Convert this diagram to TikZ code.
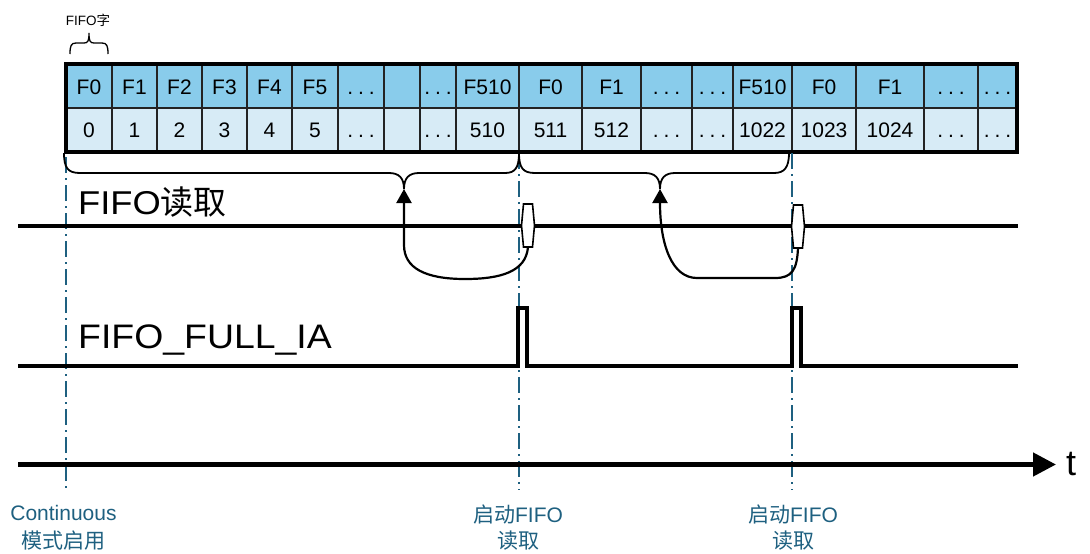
\documentclass[tikz,border=0pt]{standalone}
\usepackage{fontspec}
\setmainfont{Liberation Sans}
\newfontfamily\cjk{Noto Sans CJK SC}
\newfontfamily\widesans[FakeStretch=1.1]{Liberation Sans}
\usetikzlibrary{arrows.meta}
\definecolor{cellTop}{RGB}{137,204,235}
\definecolor{cellBot}{RGB}{215,235,246}
\definecolor{marker}{RGB}{30,96,128}
\definecolor{rule}{RGB}{35,35,35}
% widely spaced ellipsis used in the table cells
\newcommand{\gapdots}{.\kern5pt.\kern5pt.}

\begin{document}
\begin{tikzpicture}[x=1pt,y=-1pt,
  cellText/.style={anchor=base,inner sep=0pt,font=\fontsize{21}{21}\selectfont},
  cellRule/.style={draw=rule,line width=1.8pt},
  frame/.style={draw=black,line width=4.6pt},
  markerLine/.style={draw=marker,line width=2pt,dash pattern=on 16pt off 5pt on 2pt off 5pt},
  sigLine/.style={draw=black,line width=3.4pt},
  sigLabel/.style={anchor=base west,inner sep=0pt,font=\fontsize{33}{33}\selectfont\widesans},
  brace/.style={draw=black,line width=1.8pt},
  loopArrow/.style={draw=black,line width=2.2pt,-{Triangle[length=14pt,width=15pt]}},
  valve/.style={draw=black,line width=1.6pt,fill=white},
  markText/.style={anchor=base,inner sep=0pt,text=marker,font=\fontsize{21}{21}\selectfont},
  axisLine/.style={draw=black,line width=4.6pt,-{Triangle[length=23pt,width=23pt]}}
]
\useasboundingbox (0,0) rectangle (1090,554);

% ---- FIFO word table ----
\foreach \xa/\xb/\up/\dn [count=\i] in {
  66/112/F0/0, 112/157/F1/1, 157/202/F2/2, 202/247/F3/3, 247/292/F4/4,
  292/338/F5/5, 338/384/\gapdots/\gapdots, 384/420/{}/{}, 420/456/\gapdots/\gapdots, 456/519/F510/510,
  519/582/F0/511, 582/641/F1/512, 641/692/\gapdots/\gapdots, 692/733/\gapdots/\gapdots,
  733/792/F510/1022, 792/856/F0/1023, 856/924/F1/1024, 924/978/\gapdots/\gapdots,
  978/1017/\gapdots/\gapdots}
{
  \fill[cellTop] (\xa,64) rectangle (\xb,108);
  \fill[cellBot] (\xa,108) rectangle (\xb,152);
  \node[cellText] (w\i) at ({(\xa+\xb)/2},94) {\up};
  \node[cellText] (a\i) at ({(\xa+\xb)/2},137.5) {\dn};
}
\foreach \x in {112,157,202,247,292,338,384,420,456,519,582,641,692,733,792,856,924,978}
  \draw[cellRule] (\x,64) -- (\x,152);
\draw[cellRule] (66,108) -- (1017,108);
\draw[frame] (66,64) rectangle (1017,152);

% ---- one FIFO word ----
\node[anchor=base,inner sep=0pt,font=\fontsize{13.5}{13.5}\selectfont] (wordLbl) at (88,25) {FIFO{\cjk 字}};
\draw[draw=black,line width=1.3pt]
  (70,54) .. controls (70,46) and (71,43) .. (76,43) -- (84,43)
  .. controls (88,43) and (89,41) .. (89,33)
  .. controls (89,41) and (90,43) .. (94,43) -- (102,43)
  .. controls (107,43) and (108,46) .. (108,54);

% ---- marker lines ----
\coordinate (m0t) at (66,157);  \coordinate (m0b) at (66,490);
\coordinate (m1t) at (519,153); \coordinate (m1b) at (519,490);
\coordinate (m2t) at (792,153); \coordinate (m2b) at (792,490);
\draw[markerLine] (m0t) -- (m0b);
\draw[markerLine] (m1t) -- (m1b);
\draw[markerLine] (m2t) -- (m2b);

% ---- braces under the table ----
\coordinate (b1tip) at (404,189);
\coordinate (b2tip) at (660,189);
\draw[brace] (64,153) .. controls (64,168) and (68,173) .. (80,173) -- (389,173)
  .. controls (399,173) and (404,178) .. (b1tip)
  .. controls (404,178) and (409,173) .. (419,173) -- (505,173)
  .. controls (515,173) and (519,168) .. (519,153);
\draw[brace] (519,153) .. controls (519,168) and (523,173) .. (535,173) -- (645,173)
  .. controls (655,173) and (660,178) .. (b2tip)
  .. controls (660,178) and (665,173) .. (675,173) -- (774,173)
  .. controls (784,173) and (789,168) .. (789,153);

% ---- FIFO read signal ----
\node[sigLabel] (rdLbl) at (78,214) {FIFO{\cjk 读取}};
\coordinate (rdS) at (18,226); \coordinate (rdE) at (1018,226);
\draw[sigLine] (rdS) -- (rdE);
\coordinate (h1b) at (528,247);
\coordinate (h2b) at (798,248);
\draw[loopArrow] (h1b) .. controls (526,272) and (500,279) .. (465,279)
  .. controls (425,279) and (404,268) .. (404,245) -- (b1tip);
\draw[loopArrow] (h2b) .. controls (797,270) and (792,278) .. (775,278) -- (697,278)
  .. controls (672,278) and (660,245) .. (b2tip);
\draw[valve,shift={(528,225.5)}] (-4.5,-21.5) -- (4.5,-21.5) -- (6.5,0) -- (4.5,21.5) -- (-4.5,21.5) -- (-6.5,0) -- cycle;
\draw[valve,shift={(798,226.5)}] (-4.5,-21.5) -- (4.5,-21.5) -- (6.5,0) -- (4.5,21.5) -- (-4.5,21.5) -- (-6.5,0) -- cycle;

% ---- FIFO full signal ----
\node[sigLabel,font=\fontsize{34}{34}\selectfont\widesans] (fullLbl) at (78,348) {FIFO\_FULL\_IA};
\coordinate (fuS) at (18,366); \coordinate (fuE) at (1018,366);
\draw[sigLine,line join=miter] (fuS) -- (518,366) -- (518,308) -- (527,308) -- (527,366)
  -- (792,366) -- (792,308) -- (801,308) -- (801,366) -- (fuE);

% ---- time axis ----
\coordinate (axS) at (18,464.5); \coordinate (axE) at (1056,464.5);
\draw[axisLine] (axS) -- (axE);
\node[anchor=base,inner sep=0pt,font=\fontsize{36}{36}\selectfont] (tLbl) at (1071,475) {t};

% ---- event labels ----
\node[markText] (l0a) at (63.5,520) {Continuous};
\node[markText] (l0b) at (63.5,548) {\cjk 模式启用};
\node[markText] (l1a) at (518,522) {{\cjk 启动}FIFO};
\node[markText] (l1b) at (518,548) {\cjk 读取};
\node[markText] (l2a) at (793,522) {{\cjk 启动}FIFO};
\node[markText] (l2b) at (793,548) {\cjk 读取};
\end{tikzpicture}
\end{document}
